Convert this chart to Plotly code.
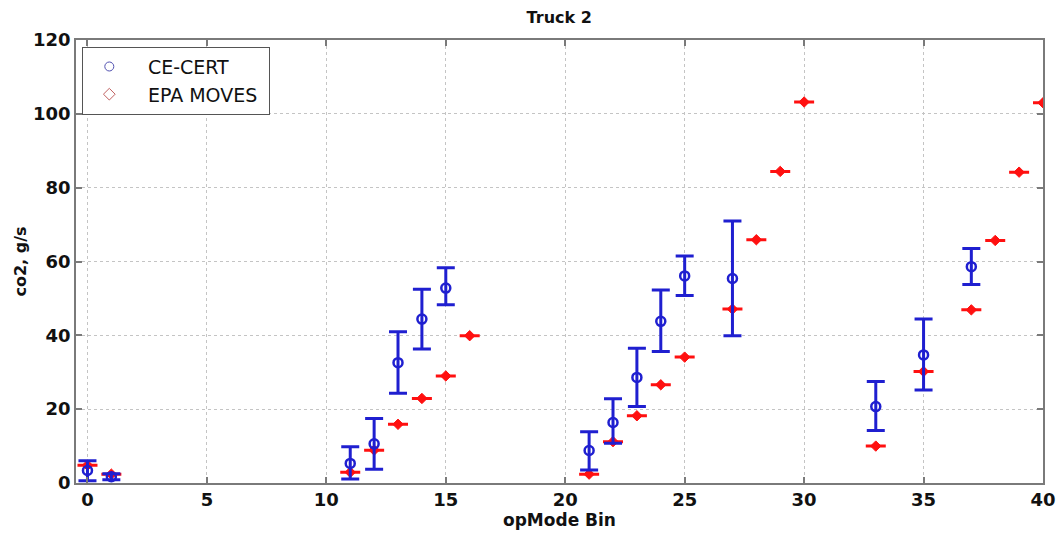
import plotly.graph_objects as go

# CE-CERT measurements (mean with error bar ends)
cert_bins = [0, 1, 11, 12, 13, 14, 15, 21, 22, 23, 24, 25, 27, 33, 35, 37]
cert_mean = [3.4, 1.7, 5.3, 10.6, 32.6, 44.4, 52.8, 8.8, 16.4, 28.6, 43.8, 56.1, 55.4, 20.7, 34.7, 58.6]
cert_upper = [6.0, 2.5, 9.8, 17.5, 41.0, 52.5, 58.3, 13.9, 22.8, 36.5, 52.3, 61.5, 71.0, 27.5, 44.4, 63.5]
cert_lower = [0.6, 0.9, 1.1, 3.7, 24.3, 36.3, 48.3, 3.5, 10.8, 20.7, 35.6, 50.8, 39.9, 14.2, 25.2, 53.8]

# EPA MOVES estimates
moves_bins = [0, 1, 11, 12, 13, 14, 15, 16, 21, 22, 23, 24, 25, 27, 28, 29, 30, 33, 35, 37, 38, 39, 40]
moves_vals = [4.8, 2.4, 2.9, 8.9, 15.9, 22.9, 29.0, 39.9, 2.4, 11.2, 18.2, 26.6, 34.1, 47.1, 65.9, 84.4, 103.2,
              10.0, 30.2, 46.9, 65.7, 84.2, 103.0]

x_ticks = [0, 5, 10, 15, 20, 25, 30, 35, 40]
y_ticks = [0, 20, 40, 60, 80, 100, 120]

BLUE = "#1f1fd0"
RED = "#ff1010"
FONT = "DejaVu Sans, Arial, sans-serif"
NB = "\u00a0"

err_plus = [u - m for u, m in zip(cert_upper, cert_mean)]
err_minus = [m - l for m, l in zip(cert_mean, cert_lower)]

fig = go.Figure()

# EPA MOVES: filled diamond + short horizontal dash (zero-length error bar caps)
fig.add_trace(go.Scatter(
    x=moves_bins, y=moves_vals, mode="markers", showlegend=False,
    marker=dict(symbol="diamond", size=8, color=RED, line=dict(color=RED, width=1)),
    error_y=dict(type="data", array=[0] * len(moves_vals), symmetric=True,
                 color=RED, thickness=3, width=10),
))

# CE-CERT: open circle with error bars
fig.add_trace(go.Scatter(
    x=cert_bins, y=cert_mean, mode="markers", showlegend=False,
    marker=dict(symbol="circle-open", size=9, color=BLUE, line=dict(color=BLUE, width=2.5)),
    error_y=dict(type="data", array=err_plus, arrayminus=err_minus, symmetric=False,
                 color=BLUE, thickness=3, width=9),
))

# legend entries
fig.add_trace(go.Scatter(
    x=[None], y=[None], mode="markers", name=NB * 2 + "CE-CERT",
    marker=dict(symbol="circle-open", size=9, color="#5050b0", line=dict(width=1)),
))
fig.add_trace(go.Scatter(
    x=[None], y=[None], mode="markers", name=NB * 2 + "EPA MOVES" + NB,
    marker=dict(symbol="diamond-open", size=9, color="#c06060", line=dict(width=1)),
))

axis_common = dict(
    showline=True, linecolor="#7a7a7a", linewidth=1.5, mirror="ticks",
    ticks="inside", ticklen=6, tickcolor="#7a7a7a", tickwidth=1.5,
    showgrid=True, gridcolor="#c4c4c4", griddash="dot", gridwidth=1,
    zeroline=False, automargin=False,
    tickfont=dict(family=FONT, size=18, color="#111111", weight="bold"),
)

fig.update_layout(
    width=1060, height=538,
    margin=dict(l=76, r=17, t=40, b=55),
    paper_bgcolor="white", plot_bgcolor="white",
    title=dict(text="<b>Truck 2</b>", x=0.5276, xanchor="center", y=0.967, yanchor="middle",
               font=dict(family=FONT, size=16, color="#111111")),
    xaxis=dict(axis_common, range=[-0.48, 40], tickvals=x_ticks,
               title=dict(text="<b>opMode Bin</b>", standoff=2,
                          font=dict(family=FONT, size=17, color="#111111"))),
    yaxis=dict(axis_common, range=[0, 120], tickvals=y_ticks,
               title=dict(text="<b>co2, g/s</b>", standoff=2,
                          font=dict(family=FONT, size=16, color="#111111"))),
    legend=dict(x=0.006, y=0.985, xanchor="left", yanchor="top",
                bgcolor="white", bordercolor="#555555", borderwidth=1,
                font=dict(family=FONT, size=19, color="#111111"),
                itemwidth=43, tracegroupgap=0),
)

fig.write_html("out.html", config={"displayModeBar": False},
               post_script="document.body.style.margin='0px';")
